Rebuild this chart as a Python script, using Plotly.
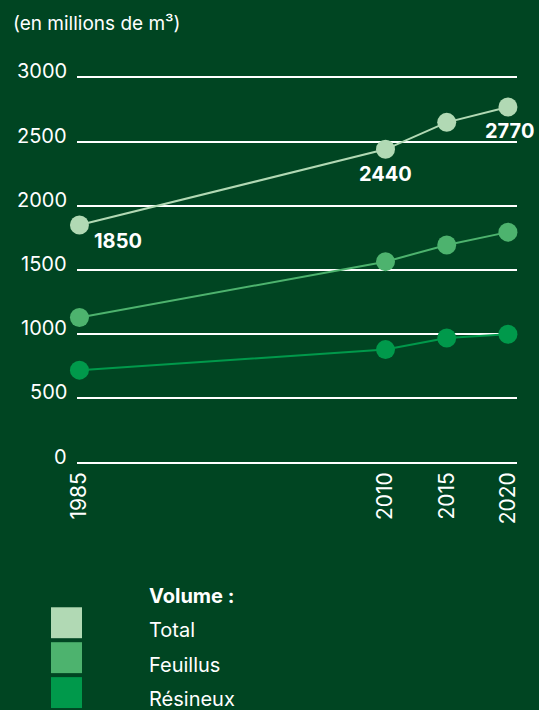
import plotly.graph_objects as go

years = [1985, 2010, 2015, 2020]
total = [1850, 2440, 2650, 2770]
feuillus = [1130, 1565, 1695, 1795]
resineux = [720, 880, 970, 1000]
y_ticks = [0, 500, 1000, 1500, 2000, 2500, 3000]
series_names = ["Total", "Feuillus", "Résineux"]
colors = ["#b1d9b4", "#4db36e", "#00994b"]
bg = "#004522"
FONT = "Inter, Liberation Sans, Arial, sans-serif"

fig = go.Figure()
for name, vals, col in [("Résineux", resineux, colors[2]),
                        ("Feuillus", feuillus, colors[1]),
                        ("Total", total, colors[0])]:
    fig.add_trace(go.Scatter(
        x=years, y=vals, mode="lines+markers", name=name,
        line=dict(color=col, width=2),
        marker=dict(color=col, size=19),
        cliponaxis=False, showlegend=False, hoverinfo="skip"))

# value labels on the Total series
label_specs = [(0, 13, -16, "left"), (1, 0, -25, "center"), (3, 2, -24, "center")]
for idx, xs, ys, anchor in label_specs:
    fig.add_annotation(x=years[idx], y=total[idx], text="<b>%d</b>" % total[idx],
                       showarrow=False, xshift=xs, yshift=ys, xanchor=anchor,
                       font=dict(family=FONT, size=20, color="white"))

# y tick labels
for v in y_ticks:
    fig.add_annotation(x=0, xref="paper", y=v, yref="y", text=str(v),
                       showarrow=False, xanchor="right", xshift=-8, yshift=6,
                       font=dict(family=FONT, size=20, color="white"))

# title
fig.add_annotation(x=-0.15, xref="paper", y=1.119, yref="paper",
                   text="(en millions de m³)", showarrow=False,
                   xanchor="left", yanchor="middle",
                   font=dict(family=FONT, size=19, color="white"))

# custom legend
plot_top, plot_bot = 70.57, 469.43
ph = plot_bot - plot_top
def py(pix):
    return (plot_bot - pix) / ph
def px(pix):
    return (pix - 77) / 440

fig.add_annotation(x=px(147), xref="paper", y=py(597), yref="paper",
                   text="<b>Volume :</b>", showarrow=False, xanchor="left",
                   yanchor="middle", font=dict(family=FONT, size=20, color="white"))
sq_tops = [608, 643, 678]
text_y = [631, 666, 700]
for name, col, t, ty in zip(series_names, colors, sq_tops, text_y):
    fig.add_shape(type="rect", xref="paper", yref="paper",
                  x0=px(51), x1=px(82), y0=py(t), y1=py(t + 31),
                  fillcolor=col, line=dict(width=0))
    fig.add_annotation(x=px(147), xref="paper", y=py(ty), yref="paper",
                       text=name, showarrow=False, xanchor="left",
                       yanchor="middle", font=dict(family=FONT, size=20, color="white"))

fig.update_layout(
    width=539, height=710,
    margin=dict(l=77, r=22, t=70.57, b=710 - 469.43),
    paper_bgcolor=bg, plot_bgcolor=bg,
    font=dict(family=FONT, color="white", size=20),
    xaxis=dict(range=[1984.80, 2020.74], tickvals=years,
               ticktext=[str(y) for y in years], tickangle=-90,
               showgrid=False, zeroline=False, showline=False,
               ticklabelstandoff=-2,
               tickfont=dict(family=FONT, size=21, color="white")),
    yaxis=dict(range=[-50, 3050], tickvals=y_ticks, showticklabels=False,
               showgrid=True, gridcolor="white", gridwidth=1.5,
               zeroline=False, showline=False),
)

fig.write_html("out.html")
